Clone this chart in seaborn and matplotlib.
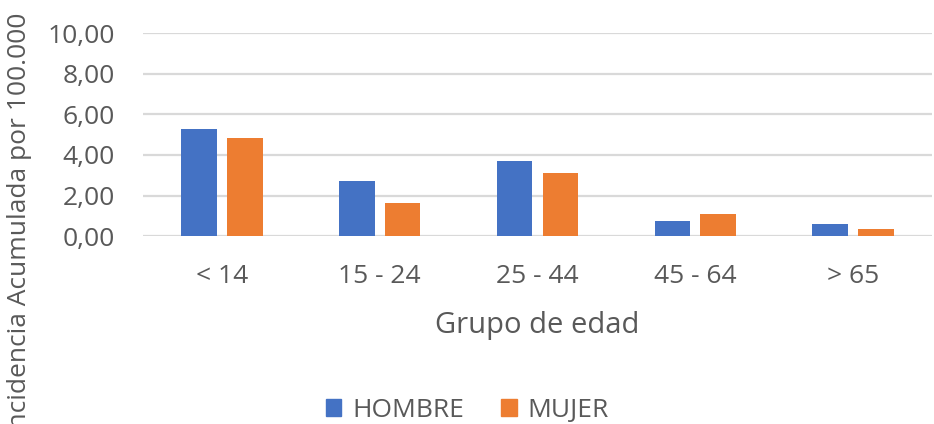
import pandas as pd
import matplotlib
matplotlib.use("Agg")
import matplotlib.pyplot as plt
import seaborn as sns
from matplotlib.ticker import FuncFormatter
from matplotlib.patches import Patch

# Datos
grupos = ["< 14", "15 - 24", "25 - 44", "45 - 64", "> 65"]
hombre = [5.30, 2.71, 3.72, 0.76, 0.61]
mujer = [4.84, 1.61, 3.12, 1.07, 0.37]

df = pd.DataFrame({
    "grupo": grupos * 2,
    "valor": hombre + mujer,
    "sexo": ["HOMBRE"] * len(grupos) + ["MUJER"] * len(grupos),
})

sns.set_style("white")
plt.rcParams["font.family"] = ["Open Sans", "DejaVu Sans"]
gris = "#595959"
colores = {"HOMBRE": "#4472C4", "MUJER": "#ED7D31"}

fig = plt.figure(figsize=(9.34, 4.24), dpi=100)
ax = fig.add_axes([0.153, 0.443, 0.845, 0.479])

sns.barplot(data=df, x="grupo", y="valor", hue="sexo", palette=colores,
            width=0.58, gap=0.22, saturation=1, linewidth=0,
            ax=ax, legend=False)

ax.set_ylim(0, 10)
ax.set_yticks([0, 2, 4, 6, 8, 10])
ax.yaxis.set_major_formatter(FuncFormatter(lambda v, p: f"{v:.2f}".replace(".", ",")))
ax.grid(axis="y", color="#D9D9D9", linewidth=1.6)
ax.set_axisbelow(True)
for s in ax.spines.values():
    s.set_visible(False)
ax.tick_params(axis="both", length=0, labelsize=19, labelcolor=gris)
ax.tick_params(axis="y", pad=20)
ax.tick_params(axis="x", pad=20)

ax.set_xlabel("Grupo de edad", fontsize=21, color=gris, labelpad=16)
ax.set_ylabel("")
# la etiqueta del eje Y aparece recortada por abajo en el original
fig.text(0.021, 0.47, "Incidencia Acumulada por 100.000", rotation=90,
         ha="center", va="center", fontsize=19, color=gris)

handles = [Patch(color=colores["HOMBRE"], label="HOMBRE"),
           Patch(color=colores["MUJER"], label="MUJER")]
fig.legend(handles=handles, loc="center", bbox_to_anchor=(0.5, 0.033), ncol=2,
           frameon=False, fontsize=19, labelcolor=gris, handlelength=0.6,
           handleheight=0.6, handletextpad=0.4, columnspacing=1.4)

fig.savefig("out.png", dpi=100)
